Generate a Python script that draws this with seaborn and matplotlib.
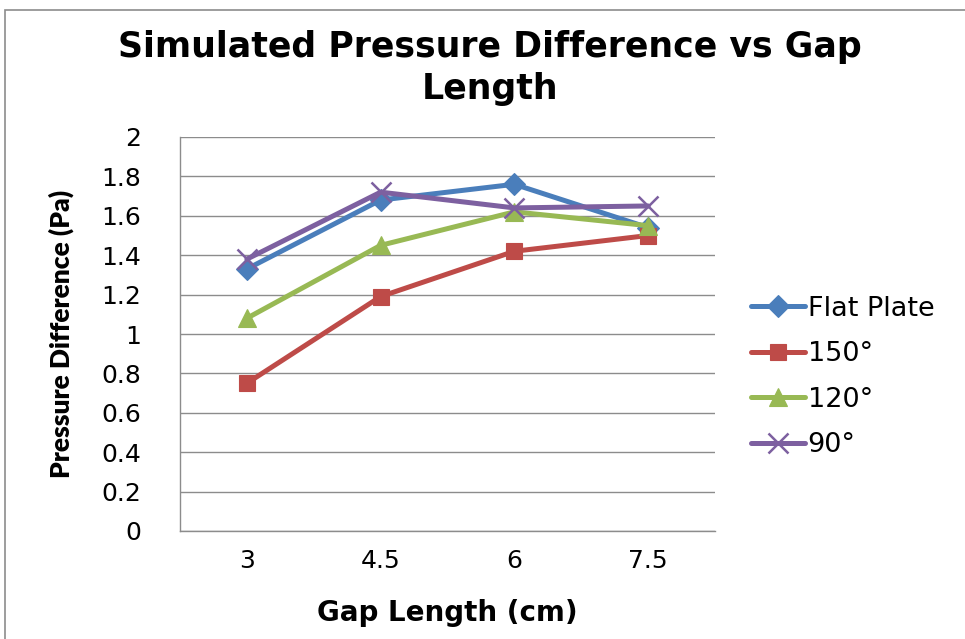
import numpy as np
import pandas as pd
import matplotlib
matplotlib.use("Agg")
import matplotlib.pyplot as plt
import seaborn as sns

gap_lengths = ["3", "4.5", "6", "7.5"]
series_names = ["Flat Plate", "150°", "120°", "90°"]
flat_plate = [1.33, 1.68, 1.76, 1.54]
deg_150 = [0.75, 1.19, 1.42, 1.50]
deg_120 = [1.08, 1.45, 1.62, 1.55]
deg_90 = [1.38, 1.72, 1.64, 1.65]
y_ticks = [0, 0.2, 0.4, 0.6, 0.8, 1, 1.2, 1.4, 1.6, 1.8, 2]

colors = ["#4A7EBB", "#BE4B48", "#98B954", "#7D60A0"]
markers = ["D", "s", "^", "x"]
marker_sizes = [11, 12, 13, 15]

sns.set_theme(style="white")
plt.rcParams["font.family"] = ["DejaVu Sans"]
plt.rcParams["text.color"] = "black"
plt.rcParams["axes.labelcolor"] = "black"

fig = plt.figure(figsize=(9.65, 6.39), dpi=100)
ax = fig.add_axes([180 / 965, 1 - 531 / 639, 535 / 965, 394 / 639])

for name, vals, c, m, ms in zip(series_names, [flat_plate, deg_150, deg_120, deg_90],
                                colors, markers, marker_sizes):
    sub = pd.DataFrame({"Gap Length (cm)": gap_lengths, "Pressure Difference (Pa)": vals})
    sns.lineplot(data=sub, x="Gap Length (cm)", y="Pressure Difference (Pa)",
                 color=c, marker=m, markersize=ms, linewidth=3.6,
                 markeredgewidth=1.8 if m == "x" else 0.8,
                 markeredgecolor=c, sort=False, label=name, ax=ax)

ax.set_xlim(-0.5, 3.5)
ax.set_ylim(0, 2)
ax.set_yticks(y_ticks)
ax.set_yticklabels([f"{t:g}" for t in y_ticks])
ax.yaxis.grid(True, color="#8C8C8C", linewidth=1.0)
ax.xaxis.grid(False)
for s in ["top", "right"]:
    ax.spines[s].set_visible(False)
for s in ["left", "bottom"]:
    ax.spines[s].set_color("#8C8C8C")
    ax.spines[s].set_linewidth(1.0)
ax.tick_params(axis="both", length=0, labelsize=18, colors="black")
ax.tick_params(axis="y", pad=28)
ax.tick_params(axis="x", pad=13)

ax.set_xlabel("Gap Length (cm)", fontsize=20, fontweight="bold")
ax.xaxis.set_label_coords(0.5, -0.172)
ax.set_ylabel("Pressure Difference (Pa)", fontsize=19, fontweight="heavy",
              family=["Lato", "DejaVu Sans"])
ax.yaxis.set_label_coords(-0.198, 0.5)

handles, labels = ax.get_legend_handles_labels()
ax.legend(handles, labels, loc="center left", bbox_to_anchor=(740 / 965, 1 - 377 / 639),
          bbox_transform=fig.transFigure, frameon=False, fontsize=19.5,
          handlelength=2.0, handletextpad=0.1, labelspacing=0.72, borderaxespad=0)

fig.text(490 / 965, 1 - 47 / 639, "Simulated Pressure Difference vs Gap",
         ha="center", va="center", fontsize=25, fontweight="bold")
fig.text(490 / 965, 1 - 89 / 639, "Length",
         ha="center", va="center", fontsize=25, fontweight="bold")

border = plt.Rectangle((5 / 965, -0.02), 1.0, 1 - 10 / 639 + 0.02, transform=fig.transFigure,
                       fill=False, edgecolor="#8C8C8C", linewidth=1.2, clip_on=False)
fig.patches.append(border)

fig.savefig("out.png", dpi=100, facecolor="white")
